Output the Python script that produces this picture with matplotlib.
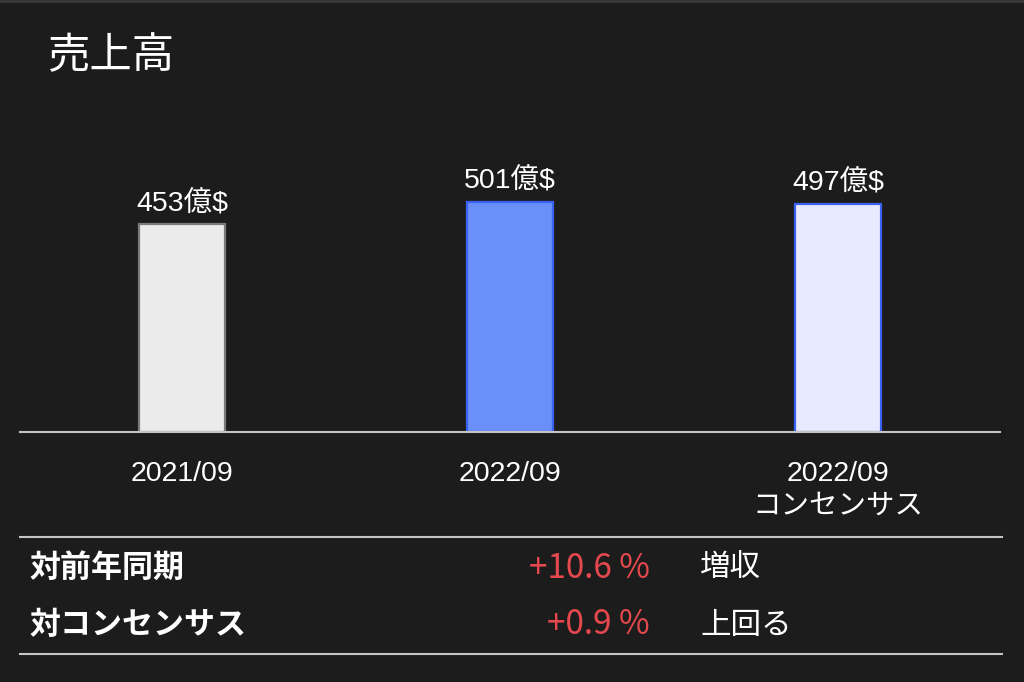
import matplotlib
matplotlib.use("Agg")
import matplotlib.pyplot as plt
from matplotlib.lines import Line2D

plt.rcParams['font.family'] = ['Liberation Sans', 'Noto Sans CJK JP', 'DejaVu Sans']

# ---- data ----
title = "売上高"
categories = ["2021/09", "2022/09", "2022/09\nコンセンサス"]
values = [453, 501, 497]
value_labels = ["453億$", "501億$", "497億$"]
row_labels = ["対前年同期", "対コンセンサス"]
row_values = ["+10.6 %", "+0.9 %"]
row_notes = ["増収", "上回る"]

# ---- style ----
BG = "#1c1c1c"
fills = ["#ebebeb", "#6b8ff8", "#e8ebff"]
edges = ["#7a7a7a", "#3a62f0", "#3a62f0"]
LINE = "#c4c4c4"
RED = "#e5484d"

W, H = 1024, 682
fig = plt.figure(figsize=(W / 100, H / 100), dpi=100, facecolor=BG)

def fx(px):
    return px / W

def fy(py):
    return 1 - py / H

# top border strip
fig.add_artist(Line2D([0, 1], [fy(1), fy(1)], color="#3a3a3a", lw=2, transform=fig.transFigure))

# title
fig.text(fx(47), fy(56), title, color="white", fontsize=30.5, va="center", ha="left",
         family=['Noto Sans CJK JP'])

# bar axes
ax_left, ax_right, ax_top, ax_base = 20, 1000, 100, 432
ax = fig.add_axes([fx(ax_left), fy(ax_base), (ax_right - ax_left) / W, (ax_base - ax_top) / H])
ax.set_facecolor(BG)
x = list(range(len(values)))
ax.bar(x, values, width=0.26, color=fills, edgecolor=edges, linewidth=1.6, zorder=2)
ax.set_xlim(-0.494, 2.494)
ax.set_ylim(0, 723)
for s in ["top", "left", "right"]:
    ax.spines[s].set_visible(False)
ax.spines["bottom"].set_color(LINE)
ax.spines["bottom"].set_linewidth(1.5)
ax.spines["bottom"].set_zorder(3)
ax.set_yticks([])
ax.set_xticks(x)
ax.set_xticklabels(categories, color="white", fontsize=20.5, linespacing=1.3)
ax.tick_params(axis="x", length=0, pad=21)

for xi, v, lab in zip(x, values, value_labels):
    ax.annotate(lab, xy=(xi, v), xytext=(0, 5), textcoords="offset points",
                ha="center", va="bottom", color="white", fontsize=20.5)

# table lines
for py in (537, 654):
    fig.add_artist(Line2D([fx(20), fx(1002)], [fy(py), fy(py)], color=LINE, lw=1.5,
                          transform=fig.transFigure))

row_y = [568, 625]
for ry, lab, val, note in zip(row_y, row_labels, row_values, row_notes):
    fig.text(fx(29), fy(ry), lab, color="white", fontsize=22.3, fontweight="bold",
             va="center", ha="left", family=['Noto Sans CJK JP'])
    fig.text(fx(650), fy(ry), val, color=RED, fontsize=24, va="center", ha="right",
             family=['Noto Sans CJK JP'])
    fig.text(fx(700), fy(ry), note, color="white", fontsize=22, va="center", ha="left",
             family=['Noto Sans CJK JP'])

fig.savefig("out.png", dpi=100, facecolor=BG)
